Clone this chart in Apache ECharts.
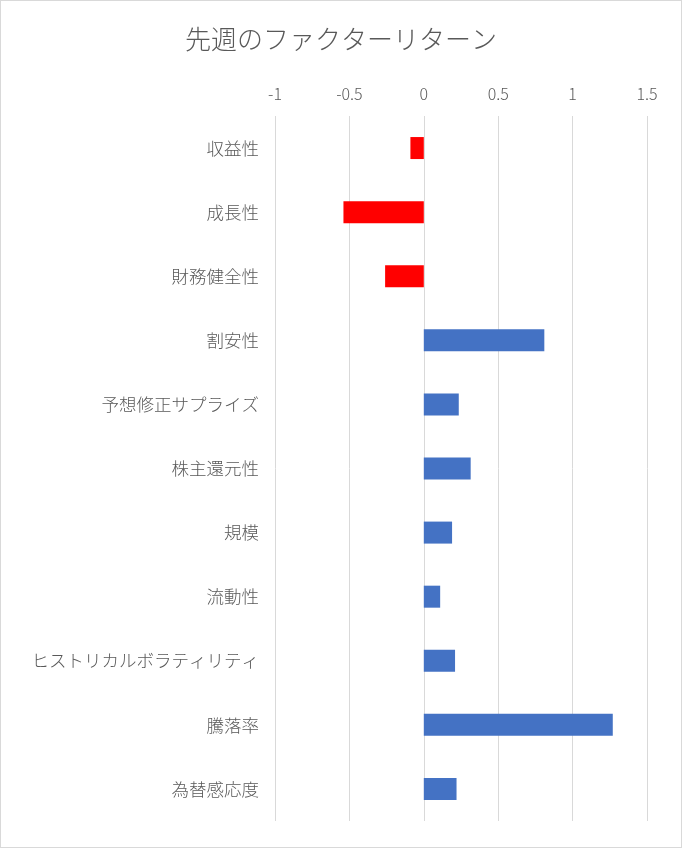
<!DOCTYPE html>
<html><head><meta charset="utf-8">
<script src="https://cdn.jsdelivr.net/npm/echarts@6/dist/echarts.min.js"></script>
<style>html,body{margin:0;padding:0;background:#fff}#c{width:680px;height:846px;border:1px solid #d9d9d9}</style>
</head><body><div id="c"></div>
<script>
const categories = ["収益性","成長性","財務健全性","割安性","予想修正サプライズ","株主還元性","規模","流動性","ヒストリカルボラティリティ","騰落率","為替感応度"];
const values = [-0.09,-0.54,-0.26,0.81,0.235,0.315,0.19,0.11,0.21,1.27,0.22];
const tickLabels = {"-1":"-1","-0.5":"-0.5","0":"0","0.5":"0.5","1":"1","1.5":"1.5"};
const chart = echarts.init(document.getElementById('c'));
const font = "'Noto Sans CJK JP', sans-serif";
chart.setOption({
  animation:false,
  title:{text:"先週のファクターリターン",left:'center',top:20,textStyle:{fontFamily:font,fontSize:26,fontWeight:300,color:'#595959'}},
  grid:{left:274,right:34,top:115,bottom:26},
  xAxis:{type:'value',position:'top',min:-1,max:1.5,interval:0.5,
    axisLabel:{color:'#595959',fontSize:16,fontFamily:font,fontWeight:300,margin:14,formatter:v=>tickLabels[String(v)]??String(v)},
    axisLine:{show:false},axisTick:{show:false},
    splitLine:{lineStyle:{color:'#d9d9d9'}}},
  yAxis:{type:'category',data:categories,inverse:true,
    axisLine:{show:false},axisTick:{show:false},
    axisLabel:{color:'#595959',fontSize:17.5,fontFamily:font,fontWeight:300,margin:16}},
  series:[{type:'bar',barWidth:22,
    data:values.map(v=>({value:v,itemStyle:{color:v<0?'#FF0000':'#4472C4'}}))}]
});
</script></body></html>
